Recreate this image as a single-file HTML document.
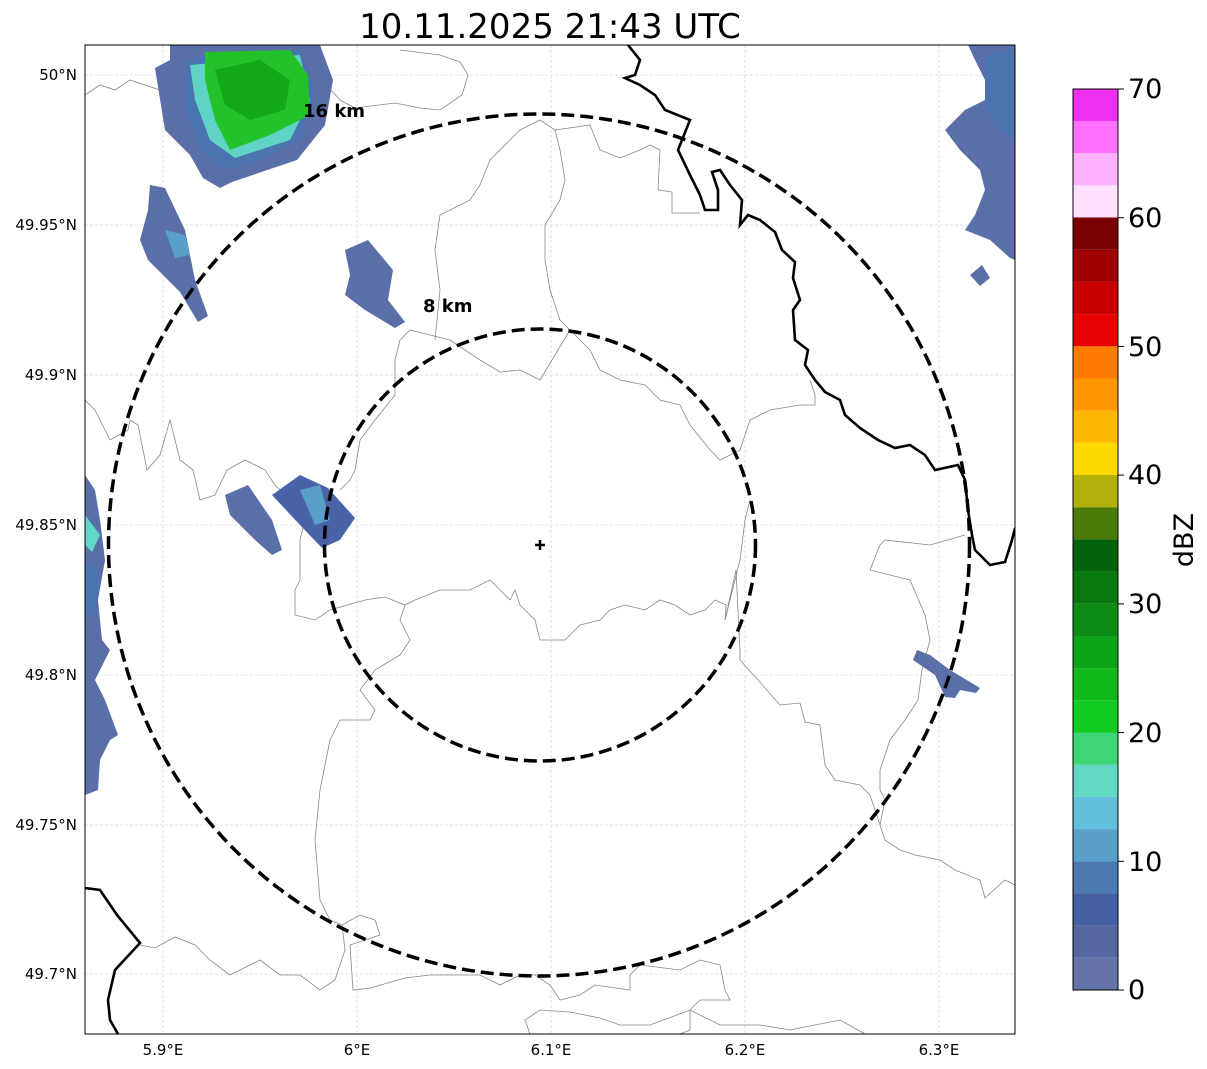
<!DOCTYPE html>
<html><head><meta charset="utf-8"><style>
html,body{margin:0;padding:0;background:#fff;}
svg{display:block;font-family:"DejaVu Sans","Liberation Sans",sans-serif;}
</style></head><body>
<svg width="1207" height="1069" viewBox="0 0 1207 1069" xmlns="http://www.w3.org/2000/svg">
<rect width="1207" height="1069" fill="#fff"/>
<text x="550" y="38" font-size="34" text-anchor="middle">10.11.2025 21:43 UTC</text>
<defs><clipPath id="c"><rect x="85" y="45" width="930" height="989"/></clipPath></defs>
<g clip-path="url(#c)">
<g stroke="#c8c8c8" stroke-width="0.6" stroke-dasharray="3,2">
<line x1="163" y1="45" x2="163" y2="1034"/><line x1="357" y1="45" x2="357" y2="1034"/><line x1="551" y1="45" x2="551" y2="1034"/><line x1="745" y1="45" x2="745" y2="1034"/><line x1="939" y1="45" x2="939" y2="1034"/>
<line x1="85" y1="75" x2="1015" y2="75"/><line x1="85" y1="225" x2="1015" y2="225"/><line x1="85" y1="375" x2="1015" y2="375"/><line x1="85" y1="525" x2="1015" y2="525"/><line x1="85" y1="675" x2="1015" y2="675"/><line x1="85" y1="825" x2="1015" y2="825"/><line x1="85" y1="974" x2="1015" y2="974"/>
</g>
<g fill="none" stroke="#888" stroke-width="0.8">
<path d="M85,95 L100,85 L115,90 L130,80 L160,90 L180,75 L190,62 L200,50"/>
<path d="M400,50 L440,55 L460,62 L468,75 L462,95 L440,110 L420,108 L395,103 L355,108 L340,100 L320,78 L300,70"/>
<path d="M85,400 L95,410 L110,440 L128,430 L130,420 L138,425 L147,470 L160,455 L170,420 L180,460 L193,470 L200,500 L215,495 L227,470 L245,460 L265,470 L275,485 L300,508 L305,520 L300,540 L300,580 L295,590 L295,615 L315,620 L330,610 L365,600 L385,597 L405,605 L415,600 L440,590 L470,590 L490,580 L500,590 L510,600 L515,590 L520,605 L535,620 L540,640 L565,640 L580,625 L600,620 L610,610 L625,605 L645,610 L660,600 L675,605 L690,615 L705,610 L715,600 L726,605 L725,620"/>
<path d="M405,605 L400,620 L410,640 L400,655 L375,670 L360,690 L375,710 L370,720 L340,720 L330,740 L320,790 L315,840 L320,900 L330,920 L342,925 L345,950 L335,980 L320,990 L300,975 L280,975 L260,960 L230,975 L210,960 L195,945 L175,937 L155,948 L140,945"/>
<path d="M342,925 L360,915 L375,920 L380,935 L350,945 L353,990 L370,988 L405,978 L430,975 L480,975 L500,985 L520,975 L535,975 L550,985 L560,1000 L580,995 L595,985 L630,990 L630,975 L640,965 L680,970 L700,960 L720,965 L725,990 L730,1000 L700,1000 L690,1010 L690,1030 L680,1034"/>
<path d="M530,1034 L525,1020 L540,1010 L570,1012 L600,1018 L620,1025 L650,1025 L690,1010 L720,1025 L760,1025 L790,1030 L840,1020 L865,1034"/>
<path d="M725,620 L736,570 L740,650 L740,660 L758,680 L780,705 L800,703 L805,722 L820,725 L825,765 L835,780 L860,785 L870,795 L880,825 L885,840 L900,850 L915,855 L940,860 L955,870 L980,880 L985,898 L1005,880 L1015,885"/>
<path d="M880,825 L885,800 L880,790 L880,770 L890,740 L905,720 L918,700 L922,670 L930,640 L925,615 L910,580 L870,570 L880,545 L885,540 L930,545 L965,535"/>
<path d="M725,620 L740,560 L745,520 L750,500"/>
<path d="M540,380 L570,330 L590,350 L600,370 L620,380 L645,385 L660,400 L680,405 L690,425 L710,450 L720,460 L740,450 L750,420 L770,410 L800,405 L815,405 L815,395 L810,380"/>
<path d="M540,380 L520,370 L500,372 L480,360 L450,340 L430,335 L410,330 L400,340 L395,360 L395,395 L375,420 L360,440 L355,470 L350,480 L340,490"/>
<path d="M435,340 L440,290 L435,250 L440,215 L460,205 L470,200 L480,185 L490,160 L510,140 L520,130 L540,120 L555,130 L560,150 L565,180 L560,200 L545,225 L545,260 L550,290 L560,320 L570,330"/>
<path d="M555,130 L590,125 L600,150 L620,158 L640,150 L650,145 L660,150 L658,190 L672,192 L672,213 L700,213"/>
</g>
<g>
<polygon fill="#5a6fa8" points="170,45 320,45 333,80 325,125 297,160 232,182 220,188 203,178 190,155 165,130 155,68 170,60"/>
<polygon fill="#4a73b0" points="185,60 300,50 315,90 300,140 260,160 225,170 200,150 185,110"/>
<polygon fill="#5fd3c4" points="190,65 300,55 310,100 290,140 235,158 210,140 195,100"/>
<polygon fill="#22c22a" points="205,52 290,50 308,75 310,115 270,135 230,150 215,120 205,80"/>
<polygon fill="#13a818" points="215,70 260,60 290,80 285,110 250,120 225,105"/>
<polygon fill="#5a6fa8" points="150,185 165,188 185,230 195,280 208,316 198,322 180,292 148,260 140,240 148,210"/>
<polygon fill="#58a0c8" points="165,230 185,235 190,255 175,258"/>
<polygon fill="#5a6fa8" points="345,250 368,240 393,270 388,300 405,322 395,328 365,310 345,295 350,275"/>
<polygon fill="#5a6fa8" points="225,495 248,485 272,520 282,550 272,555 255,540 230,515"/>
<polygon fill="#4a63a8" points="272,495 300,475 328,488 355,518 340,540 322,548 300,525"/>
<polygon fill="#58a0c8" points="300,490 320,485 330,520 315,525"/>
<polygon fill="#5a6fa8" points="85,475 95,490 100,520 105,560 98,600 102,640 110,650 95,680 105,700 118,735 110,740 100,760 98,790 85,795"/>
<polygon fill="#60d8c8" points="85,515 100,535 92,552 85,545"/>
<polygon fill="#4a73b0" points="85,560 100,575 95,610 85,620"/>
<polygon fill="#5a6fa8" points="968,45 1015,45 1015,260 1010,258 990,240 965,230 975,215 985,190 980,170 960,150 945,130 965,110 985,100 985,80 975,60"/>
<polygon fill="#4a73b0" points="985,55 1015,50 1015,140 1000,130 985,110"/>
<polygon fill="#5a6fa8" points="970,275 982,265 990,278 980,286"/>
<polygon fill="#5a6fa8" points="917,650 930,655 950,670 980,688 976,693 960,690 955,698 945,697 935,675 913,660"/>
</g>
<path fill="none" stroke="#000" stroke-width="2.6" d="M628,45 L640,60 L635,75 L625,78 L640,85 L655,95 L665,110 L690,120 L678,150 L690,175 L700,195 L705,210 L718,210 L718,190 L712,172 L720,170 L730,185 L742,200 L740,225 L748,215 L760,220 L775,232 L782,250 L795,262 L793,278 L800,300 L793,310 L795,340 L808,350 L805,365 L815,380 L825,392 L840,400 L845,415 L860,428 L878,440 L895,448 L910,445 L925,455 L935,470 L958,465 L965,480 L968,510 L972,535 L975,550 L990,565 L1005,562 L1012,540 L1015,528"/>
<path fill="none" stroke="#000" stroke-width="2.6" d="M85,888 L100,890 L117,915 L140,943 L115,970 L108,1000 L110,1020 L118,1034"/>
<ellipse cx="540" cy="545" rx="215.5" ry="216" fill="none" stroke="#000" stroke-width="3.5" stroke-dasharray="13,6"/>
<ellipse cx="539" cy="545" rx="430.5" ry="431" fill="none" stroke="#000" stroke-width="3.5" stroke-dasharray="13,6"/>
<path d="M540,540 V550 M535,545 H545" stroke="#000" stroke-width="2.5"/>
<text x="303" y="117" font-size="18" font-weight="bold">16 km</text>
<text x="423" y="312" font-size="18" font-weight="bold">8 km</text>
</g>
<rect x="85" y="45" width="930" height="989" fill="none" stroke="#000" stroke-width="1"/>
<g font-size="15" text-anchor="end">
<text x="77" y="80">50°N</text><text x="77" y="230">49.95°N</text><text x="77" y="380">49.9°N</text><text x="77" y="530">49.85°N</text><text x="77" y="680">49.8°N</text><text x="77" y="830">49.75°N</text><text x="77" y="979">49.7°N</text>
</g>
<g font-size="15" text-anchor="middle">
<text x="163" y="1055">5.9°E</text><text x="357" y="1055">6°E</text><text x="551" y="1055">6.1°E</text><text x="745" y="1055">6.2°E</text><text x="939" y="1055">6.3°E</text>
</g>
<g>
<rect x="1073" y="957.8" width="45" height="32.2" fill="#6474a8"/>
<rect x="1073" y="925.6" width="45" height="32.2" fill="#5668a2"/>
<rect x="1073" y="893.4" width="45" height="32.2" fill="#4660a4"/>
<rect x="1073" y="861.2" width="45" height="32.2" fill="#4a7ab0"/>
<rect x="1073" y="829.1" width="45" height="32.2" fill="#58a0c8"/>
<rect x="1073" y="796.9" width="45" height="32.2" fill="#62c0dc"/>
<rect x="1073" y="764.7" width="45" height="32.2" fill="#60d8c4"/>
<rect x="1073" y="732.5" width="45" height="32.2" fill="#3ed674"/>
<rect x="1073" y="700.3" width="45" height="32.2" fill="#12cc22"/>
<rect x="1073" y="668.1" width="45" height="32.2" fill="#10b818"/>
<rect x="1073" y="635.9" width="45" height="32.2" fill="#0ea418"/>
<rect x="1073" y="603.8" width="45" height="32.2" fill="#0c8c14"/>
<rect x="1073" y="571.6" width="45" height="32.2" fill="#087810"/>
<rect x="1073" y="539.4" width="45" height="32.2" fill="#04620a"/>
<rect x="1073" y="507.2" width="45" height="32.2" fill="#4a7a08"/>
<rect x="1073" y="475" width="45" height="32.2" fill="#b0b008"/>
<rect x="1073" y="442.8" width="45" height="32.2" fill="#ffd800"/>
<rect x="1073" y="410.6" width="45" height="32.2" fill="#ffb800"/>
<rect x="1073" y="378.4" width="45" height="32.2" fill="#ff9800"/>
<rect x="1073" y="346.3" width="45" height="32.2" fill="#ff7a00"/>
<rect x="1073" y="314.1" width="45" height="32.2" fill="#e80000"/>
<rect x="1073" y="281.9" width="45" height="32.2" fill="#c80000"/>
<rect x="1073" y="249.7" width="45" height="32.2" fill="#a00000"/>
<rect x="1073" y="217.5" width="45" height="32.2" fill="#780000"/>
<rect x="1073" y="185.3" width="45" height="32.2" fill="#ffe0ff"/>
<rect x="1073" y="153.1" width="45" height="32.2" fill="#ffb0ff"/>
<rect x="1073" y="120.9" width="45" height="32.2" fill="#ff70ff"/>
<rect x="1073" y="89" width="45" height="32" fill="#f030f0"/>
<rect x="1073" y="89" width="45" height="901" fill="none" stroke="#000" stroke-width="1"/>
<g stroke="#000" stroke-width="1">
<line x1="1118" y1="990" x2="1124" y2="990"/><line x1="1118" y1="861.3" x2="1124" y2="861.3"/><line x1="1118" y1="732.6" x2="1124" y2="732.6"/><line x1="1118" y1="603.9" x2="1124" y2="603.9"/><line x1="1118" y1="475.1" x2="1124" y2="475.1"/><line x1="1118" y1="346.4" x2="1124" y2="346.4"/><line x1="1118" y1="217.7" x2="1124" y2="217.7"/><line x1="1118" y1="89" x2="1124" y2="89"/>
</g>
<g font-size="27">
<text x="1128" y="999">0</text><text x="1128" y="871">10</text><text x="1128" y="742">20</text><text x="1128" y="613">30</text><text x="1128" y="484">40</text><text x="1128" y="356">50</text><text x="1128" y="227">60</text><text x="1128" y="98">70</text>
</g>
<text transform="translate(1193,540) rotate(-90)" font-size="27" text-anchor="middle">dBZ</text>
</g>
</svg>
</body></html>
